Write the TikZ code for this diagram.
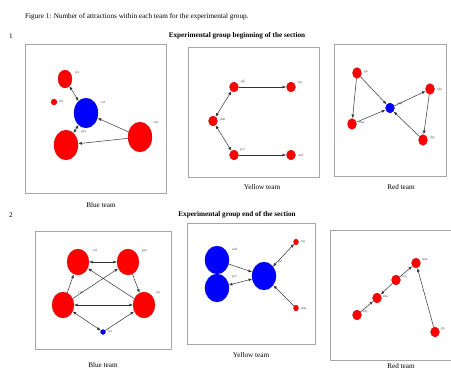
\documentclass[tikz,border=0pt]{standalone}
\usepackage{fontspec}
\setmainfont{Liberation Serif}
\usetikzlibrary{shapes.geometric,arrows.meta}
\begin{document}
\begin{tikzpicture}[x=1pt,y=-1pt,
 panel/.style={draw=gray!70,line width=0.9pt},
 rn/.style={ellipse,fill=red,draw=red!75!black,line width=0.2pt,inner sep=0pt},
 bn/.style={ellipse,fill=blue,draw=blue!75!black,line width=0.2pt,inner sep=0pt},
 lab/.style={font=\fontsize{3.5}{3.8}\selectfont,text=black!70,inner sep=0pt,anchor=west},
 txt/.style={font=\fontsize{7.2}{8}\selectfont,inner sep=0pt},
 btxt/.style={font=\fontsize{7.2}{8}\selectfont\bfseries,inner sep=0pt},
 ar/.style={-{Latex[length=3.6pt,width=3pt]},line width=0.5pt,draw=black!80,shorten >=0.3pt},
 bar/.style={{Latex[length=3.6pt,width=3pt]}-{Latex[length=3.6pt,width=3pt]},line width=0.5pt,draw=black!80}]
\useasboundingbox[fill=white] (0,0) rectangle (451,370);
% captions
\node[txt,anchor=west] (fig) at (25,17) {Figure 1: Number of attractions within each team for the experimental group.};
\node[txt] (n1) at (11,36) {1};
\node[btxt] (h1) at (237,36) {Experimental group beginning of the section};
\node[txt] (n2) at (11,215) {2};
\node[btxt] (h2) at (237,215) {Experimental group end of the section};
% panels
\draw[panel] (25,44) rectangle (166,193);
\draw[panel] (188,47) rectangle (319,177);
\draw[panel] (334,44) rectangle (446,176);
\draw[panel] (35,231) rectangle (171,349);
\draw[panel] (187,223) rectangle (315,344);
\draw[panel] (330,230) rectangle (451,360);
\node[txt] (t1) at (101,205) {Blue team};
\node[txt] (t2) at (262,187) {Yellow team};
\node[txt] (t3) at (401,187) {Red team};
\node[txt] (t4) at (103,365) {Blue team};
\node[txt] (t5) at (251,355) {Yellow team};
\node[txt] (t6) at (401,366) {Red team};
% ---- panel 1
\node[rn,minimum width=14pt,minimum height=18pt] (a1) at (65,79) {};
\node[rn,minimum width=6pt,minimum height=6pt] (a2) at (54,102) {};
\node[bn,minimum width=24pt,minimum height=30pt] (a3) at (86,113) {};
\node[rn,minimum width=24pt,minimum height=30pt] (a4) at (66,145) {};
\node[rn,minimum width=24pt,minimum height=30pt] (a5) at (140,137) {};
\node[lab] (la1) at (75,73) {jey};
\node[lab] (la2) at (59,101) {len};
\node[lab] (la3) at (101,102) {sol};
\node[lab] (la4) at (81,132) {gru};
\node[lab] (la5) at (153,123) {can};
\draw[bar] (a1) -- (a3);
\draw[bar] (a3) -- (a4);
\draw[ar] (a5) -- (a3);
\draw[ar] (a5) -- (a4);
% ---- panel 2
\node[rn,minimum width=9pt,minimum height=10pt] (b1) at (234,87) {};
\node[rn,minimum width=9pt,minimum height=10pt] (b2) at (291,87) {};
\node[rn,minimum width=9pt,minimum height=10pt] (b3) at (213,121) {};
\node[rn,minimum width=9pt,minimum height=10pt] (b4) at (234,155) {};
\node[rn,minimum width=9pt,minimum height=10pt] (b5) at (291,155) {};
\node[lab] (lb1) at (241,82) {gil};
\node[lab] (lb2) at (298,83) {tnj};
\node[lab] (lb3) at (220,119) {mai};
\node[lab] (lb4) at (240,150) {pcf};
\node[lab] (lb5) at (298,155) {wuf};
\draw[ar] (b1) -- (b2);
\draw[bar] (b3) -- (b1);
\draw[bar] (b3) -- (b4);
\draw[ar] (b4) -- (b5);
% ---- panel 3
\node[rn,minimum width=9pt,minimum height=11pt] (c1) at (357,73) {};
\node[rn,minimum width=9pt,minimum height=11pt] (c2) at (352,124) {};
\node[bn,minimum width=9pt,minimum height=10pt] (c3) at (390,108) {};
\node[rn,minimum width=9pt,minimum height=11pt] (c4) at (430,89) {};
\node[rn,minimum width=9pt,minimum height=11pt] (c5) at (423,140) {};
\node[lab] (lc1) at (364,72) {gu};
\node[lab] (lc2) at (359,123) {mar};
\node[lab] (lc3) at (397,104) {emj};
\node[lab] (lc4) at (437,89) {rdu};
\node[lab] (lc5) at (430,138) {djy};
\draw[ar] (c1) -- (c3);
\draw[ar] (c1) -- (c2);
\draw[ar] (c2) -- (c3);
\draw[ar] (c3) -- (c4);
\draw[ar] (c4) -- (c5);
\draw[ar] (c5) -- (c3);
% ---- panel 4
\node[rn,minimum width=22pt,minimum height=26pt] (d1) at (78,262) {};
\node[rn,minimum width=22pt,minimum height=26pt] (d2) at (128,262) {};
\node[rn,minimum width=22pt,minimum height=26pt] (d3) at (144,305) {};
\node[rn,minimum width=22pt,minimum height=26pt] (d4) at (63,305) {};
\node[bn,minimum width=5pt,minimum height=5pt] (d5) at (103,332) {};
\node[lab] (ld1) at (93,250) {sol};
\node[lab] (ld2) at (142,251) {gru};
\node[lab] (ld3) at (156,293) {jey};
\node[lab] (ld4) at (78,293) {can};
\node[lab] (ld5) at (108,331) {lev};
\draw[bar] (d1) -- (d2);
\draw[ar] (d2) -- (d3);
\draw[ar] (d3) -- (d1);
\draw[ar] (d4) -- (d1);
\draw[ar] (d4) -- (d2);
\draw[bar] (d4) -- (d3);
\draw[bar] (d5) -- (d4);
\draw[ar] (d5) -- (d3);
% ---- panel 5
\node[bn,minimum width=24pt,minimum height=28pt] (e1) at (217,260) {};
\node[bn,minimum width=24pt,minimum height=28pt] (e2) at (217,288) {};
\node[bn,minimum width=24pt,minimum height=28pt] (e3) at (264,276) {};
\node[rn,minimum width=5pt,minimum height=6pt] (e4) at (296,242) {};
\node[rn,minimum width=5pt,minimum height=6pt] (e5) at (296,308) {};
\node[lab] (le1) at (232,249) {wuf};
\node[lab] (le2) at (232,277) {pcf};
\node[lab] (le3) at (278,262) {gil};
\node[lab] (le4) at (301,242) {tnj};
\node[lab] (le5) at (301,308) {mai};
\draw[ar] (e1) -- (e3);
\draw[bar] (e2) -- (e3);
\draw[bar] (e3) -- (e4);
\draw[ar] (e5) -- (e3);
% ---- panel 6
\node[rn,minimum width=9pt,minimum height=10pt] (f1) at (357,315) {};
\node[rn,minimum width=9pt,minimum height=10pt] (f2) at (377,298) {};
\node[rn,minimum width=9pt,minimum height=10pt] (f3) at (396,280) {};
\node[rn,minimum width=9pt,minimum height=10pt] (f4) at (416,263) {};
\node[rn,minimum width=9pt,minimum height=10pt] (f5) at (435,332) {};
\node[lab] (lf1) at (363,312) {fdy};
\node[lab] (lf2) at (383,296) {rdu};
\node[lab] (lf3) at (402,277) {wej};
\node[lab] (lf4) at (422,260) {mur};
\node[lab] (lf5) at (441,329) {gu};
\draw[ar] (f1) -- (f2);
\draw[ar] (f3) -- (f2);
\draw[ar] (f3) -- (f4);
\draw[ar] (f5) -- (f4);
\end{tikzpicture}
\end{document}
